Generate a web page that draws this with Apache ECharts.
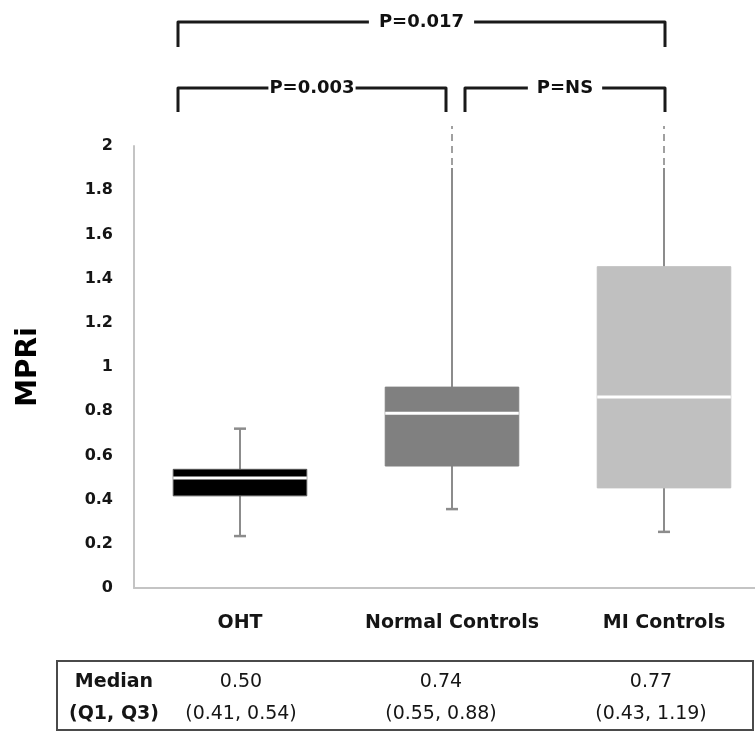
<!DOCTYPE html>
<html>
<head>
<meta charset="utf-8">
<script src="https://cdn.jsdelivr.net/npm/echarts@6/dist/echarts.min.js"></script>
<style>
html,body{margin:0;padding:0;background:#fff;}
#chart{width:755px;height:731px;}
</style>
</head>
<body>
<div id="chart"></div>
<script>
// ---- data ----
var categories = ['OHT', 'Normal Controls', 'MI Controls'];
var whiskerLow  = [0.235, 0.357, 0.254];
var q1Vals      = [0.417, 0.552, 0.453];
var medianVals  = [0.498, 0.791, 0.864];
var q3Vals      = [0.537, 0.909, 1.454];
var whiskerHigh = [0.721, 1.90, 1.90];
var truncatedTop = [null, 2.09, 2.09];   // dashed continuation beyond axis
var yTicks = { min: 0, max: 2, step: 0.2 };
var tableMedian = ['0.50', '0.74', '0.77'];
var tableIQR    = ['(0.41, 0.54)', '(0.55, 0.88)', '(0.43, 1.19)'];
var comparisons = [
  { from: 0, to: 2, label: 'P=0.017', level: 0 },
  { from: 0, to: 1, label: 'P=0.003', level: 1 },
  { from: 1, to: 2, label: 'P=NS',    level: 1 }
];

// ---- styles ----
var FONT = 'DejaVu Sans';
var boxColors = ['#000000', '#808080', '#c0c0c0'];
var whiskerColor = '#8c8c8c';
var axisColor = '#c4c4c4';
var textColor = '#151515';

var chart = echarts.init(document.getElementById('chart'), null, { renderer: 'canvas' });

var seriesData = categories.map(function (c, i) {
  return [i, whiskerLow[i], q1Vals[i], medianVals[i], q3Vals[i], whiskerHigh[i]];
});

function renderBox(params, api) {
  var i = params.dataIndex;
  var xi = api.value(0);
  var bandW = api.size([1, 0])[0];
  var bw = bandW * 0.63;
  var cx = api.coord([xi, 0])[0];
  var yLow = api.coord([xi, api.value(1)])[1];
  var yQ1 = api.coord([xi, api.value(2)])[1];
  var yMed = api.coord([xi, api.value(3)])[1];
  var yQ3 = api.coord([xi, api.value(4)])[1];
  var yHigh = api.coord([xi, api.value(5)])[1];
  var children = [];
  var wStyle = { stroke: whiskerColor, lineWidth: 2 };
  children.push({ type: 'line', shape: { x1: cx, y1: yQ3, x2: cx, y2: yHigh }, style: wStyle });
  children.push({ type: 'line', shape: { x1: cx, y1: yQ1, x2: cx, y2: yLow }, style: wStyle });
  children.push({ type: 'line', shape: { x1: cx - 6, y1: yLow, x2: cx + 6, y2: yLow }, style: { stroke: whiskerColor, lineWidth: 2.5 } });
  if (truncatedTop[i] != null) {
    var yExt = api.coord([xi, truncatedTop[i]])[1];
    children.push({ type: 'line', shape: { x1: cx, y1: yHigh - 3, x2: cx, y2: yExt }, style: { stroke: '#a0a0a0', lineWidth: 2, lineDash: [7, 5] } });
  } else {
    children.push({ type: 'line', shape: { x1: cx - 6, y1: yHigh, x2: cx + 6, y2: yHigh }, style: { stroke: whiskerColor, lineWidth: 2.5 } });
  }
  children.push({ type: 'rect', shape: { x: cx - bw / 2, y: yQ3, width: bw, height: yQ1 - yQ3 },
    style: { fill: boxColors[i], stroke: i === 0 ? '#555' : boxColors[i], lineWidth: 1 } });
  children.push({ type: 'line', shape: { x1: cx - bw / 2, y1: yMed, x2: cx + bw / 2, y2: yMed }, style: { stroke: '#ffffff', lineWidth: 3 } });
  return { type: 'group', children: children };
}

chart.setOption({
  animation: false,
  backgroundColor: '#ffffff',
  grid: { left: 134, top: 146, width: 636, height: 442, outerBoundsMode: 'none', containLabel: false },
  xAxis: {
    type: 'category',
    data: categories,
    axisTick: { show: false },
    axisLine: { lineStyle: { color: axisColor, width: 2 } },
    axisLabel: { interval: 0, hideOverlap: false, fontFamily: FONT, fontWeight: 'bold', fontSize: 19, color: textColor, margin: 26 }
  },
  yAxis: {
    type: 'value',
    min: yTicks.min, max: yTicks.max, interval: yTicks.step,
    splitLine: { show: false },
    axisTick: { show: false },
    axisLine: { show: true, lineStyle: { color: axisColor, width: 2 } },
    axisLabel: { fontFamily: FONT, fontWeight: 'bold', fontSize: 16, color: textColor, margin: 21 },
    name: 'MPRi',
    nameLocation: 'middle',
    nameGap: 91,
    nameTextStyle: { fontFamily: FONT, fontWeight: 'bold', fontSize: 28, color: '#000' }
  },
  series: [{
    type: 'custom',
    renderItem: renderBox,
    data: seriesData,
    encode: { x: 0, y: [1, 2, 3, 4, 5] },
    clip: false,
    z: 3
  }]
});

// ---- annotations (brackets + table) positioned from the axes ----
function px(i) { return chart.convertToPixel({ xAxisIndex: 0 }, i); }
var endOffsets = function (cmp) {
  if (cmp.level === 0) return [-62, 1];
  if (cmp.from === 0) return [-62, -6];
  return [13, 1];
};
var levelY = [22, 88];
var tickLen = [25, 24];
var labelPad = { 'P=0.017': [0, 10], 'P=0.003': [0, 1], 'P=NS': [0, 9] };
var graphics = [];
comparisons.forEach(function (cmp) {
  var off = endOffsets(cmp);
  var x1 = px(cmp.from) + off[0];
  var x2 = px(cmp.to) + off[1];
  var y = levelY[cmp.level];
  var t = tickLen[cmp.level];
  graphics.push({
    type: 'polyline',
    shape: { points: [[x1, y + t], [x1, y], [x2, y], [x2, y + t]] },
    style: { stroke: '#1a1a1a', lineWidth: 3, fill: null, lineJoin: 'round' },
    z: 10
  });
  graphics.push({
    type: 'text',
    x: (x1 + x2) / 2, y: y,
    style: {
      text: cmp.label, fontFamily: FONT, fontWeight: 'bold', fontSize: 18, fill: '#111',
      align: 'center', verticalAlign: 'middle', backgroundColor: '#fff', padding: labelPad[cmp.label]
    },
    z: 11
  });
});

// table
var tableTop = 661, tableBottom = 730;
graphics.push({
  type: 'rect',
  shape: { x: 57, y: tableTop, width: 696, height: tableBottom - tableTop },
  style: { fill: null, stroke: '#4a4a4a', lineWidth: 2 },
  z: 10
});
var row1 = 682, row2 = 714;
graphics.push({ type: 'text', x: 114, y: row1, style: { text: 'Median', fontFamily: FONT, fontWeight: 'bold', fontSize: 19, fill: textColor, align: 'center', verticalAlign: 'middle' }, z: 11 });
graphics.push({ type: 'text', x: 114, y: row2, style: { text: '(Q1, Q3)', fontFamily: FONT, fontWeight: 'bold', fontSize: 19, fill: textColor, align: 'center', verticalAlign: 'middle' }, z: 11 });
var colShift = [1, -11, -13];
categories.forEach(function (c, i) {
  var x = px(i) + colShift[i];
  graphics.push({ type: 'text', x: x, y: row1, style: { text: tableMedian[i], fontFamily: FONT, fontSize: 19, fill: textColor, align: 'center', verticalAlign: 'middle' }, z: 11 });
  graphics.push({ type: 'text', x: x, y: row2, style: { text: tableIQR[i], fontFamily: FONT, fontSize: 19, fill: textColor, align: 'center', verticalAlign: 'middle' }, z: 11 });
});

chart.setOption({ graphic: graphics });
</script>
</body>
</html>
